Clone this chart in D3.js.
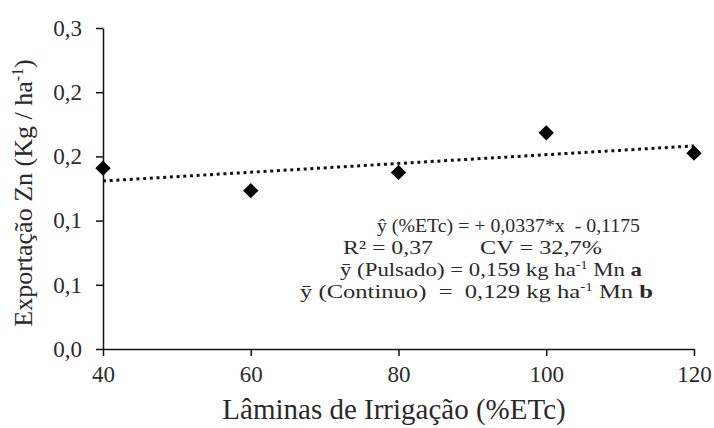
<!DOCTYPE html>
<html><head><meta charset="utf-8">
<script src="https://cdn.jsdelivr.net/npm/d3@7"></script>
<style>body{margin:0;background:#fff}svg{display:block}</style>
</head><body>
<svg id="c" width="714" height="428"></svg>
<script>
const lamina = [40, 60, 80, 100, 120];
const zinco = [0.169, 0.148, 0.165, 0.202, 0.183];
const yTicks = [0, 0.06, 0.12, 0.18, 0.24, 0.30];
const xTicks = [40, 60, 80, 100, 120];

const FF = "'Liberation Serif', 'Times New Roman', 'DejaVu Serif', serif";
const svg = d3.select("#c").style("font-family", FF);
const m = {l: 103, r: 694, t: 28, b: 349};
const x = d3.scaleLinear().domain([40, 120]).range([m.l, m.r]);
const y = d3.scaleLinear().domain([0, 0.3]).range([m.b, m.t]);
const fmt = v => d3.format(".1f")(v).replace(".", ",");
const col = "#111";
const tcol = "#2a2a2a";

const ya = svg.append("g").attr("transform", `translate(${m.l},0)`)
  .call(d3.axisLeft(y).tickValues(yTicks).tickFormat(fmt).tickSize(7).tickPadding(14).tickSizeOuter(0));
const xa = svg.append("g").attr("transform", `translate(0,${m.b})`)
  .call(d3.axisBottom(x).tickValues(xTicks).tickFormat(d3.format("d")).tickSize(7).tickPadding(10).tickSizeOuter(0));
[ya, xa].forEach(g => {
  g.attr("font-family", null).attr("font-size", null);
  g.select(".domain").attr("stroke", col).attr("stroke-width", 1.5);
  g.selectAll(".tick line").attr("stroke", col).attr("stroke-width", 1.5);
  g.selectAll(".tick text").attr("fill", tcol).style("font-family", FF).style("font-size", "23px");
});

// linear trend (least squares from the data)
const mx = d3.mean(lamina), my = d3.mean(zinco);
const b = d3.sum(lamina, (v, i) => (v - mx) * (zinco[i] - my)) / d3.sum(lamina, v => (v - mx) ** 2);
const a = my - b * mx;
svg.append("line")
  .attr("x1", x(40)).attr("y1", y(a + b * 40))
  .attr("x2", x(120)).attr("y2", y(a + b * 120))
  .attr("stroke", col).attr("stroke-width", 3).attr("stroke-dasharray", "3,3.7");

svg.selectAll("path.pt").data(lamina).enter().append("path")
  .attr("class", "pt")
  .attr("d", d3.symbol().type(d3.symbolDiamond2).size(150))
  .attr("transform", (d, i) => `translate(${x(d)},${y(zinco[i])})`)
  .attr("fill", "#000");

// equation block
const eq = svg.append("g").attr("fill", tcol).style("font-size", "19.5px").style("font-family", FF);
const fit = (sel, w) => sel.attr("textLength", w).attr("lengthAdjust", "spacingAndGlyphs");
fit(eq.append("text").attr("x", 377).attr("y", 232).attr("xml:space", "preserve")
  .text("ŷ (%ETc) = + 0,0337*x  - 0,1175"), 263);
fit(eq.append("text").attr("x", 343).attr("y", 254).text("R² = 0,37"), 90);
fit(eq.append("text").attr("x", 480).attr("y", 254).text("CV = 32,7%"), 122);
const t3 = eq.append("text").attr("x", 340).attr("y", 276).attr("xml:space", "preserve");
t3.append("tspan").text("ȳ (Pulsado) = 0,159 kg ha");
t3.append("tspan").attr("dy", -7).style("font-size", "12px").text("-1");
t3.append("tspan").attr("dy", 7).text(" Mn ");
t3.append("tspan").attr("font-weight", "bold").text("a");
fit(t3, 302);
const t4 = eq.append("text").attr("x", 300).attr("y", 298).attr("xml:space", "preserve");
t4.append("tspan").text("ȳ (Continuo)  =  0,129 kg ha");
t4.append("tspan").attr("dy", -7).style("font-size", "12px").text("-1");
t4.append("tspan").attr("dy", 7).text(" Mn ");
t4.append("tspan").attr("font-weight", "bold").text("b");
fit(t4, 353);

// axis titles
svg.append("text").attr("x", 394).attr("y", 419).attr("text-anchor", "middle")
  .attr("fill", tcol).style("font-size", "29px").text("Lâminas de Irrigação (%ETc)");
const yt = svg.append("text").attr("transform", "translate(32,193) rotate(-90)").attr("text-anchor", "middle")
  .attr("fill", tcol).style("font-size", "26px");
yt.append("tspan").text("Exportação Zn (Kg / ha");
yt.append("tspan").attr("dy", -9).style("font-size", "16px").text("-1");
yt.append("tspan").attr("dy", 9).text(")");
</script>
</body></html>
